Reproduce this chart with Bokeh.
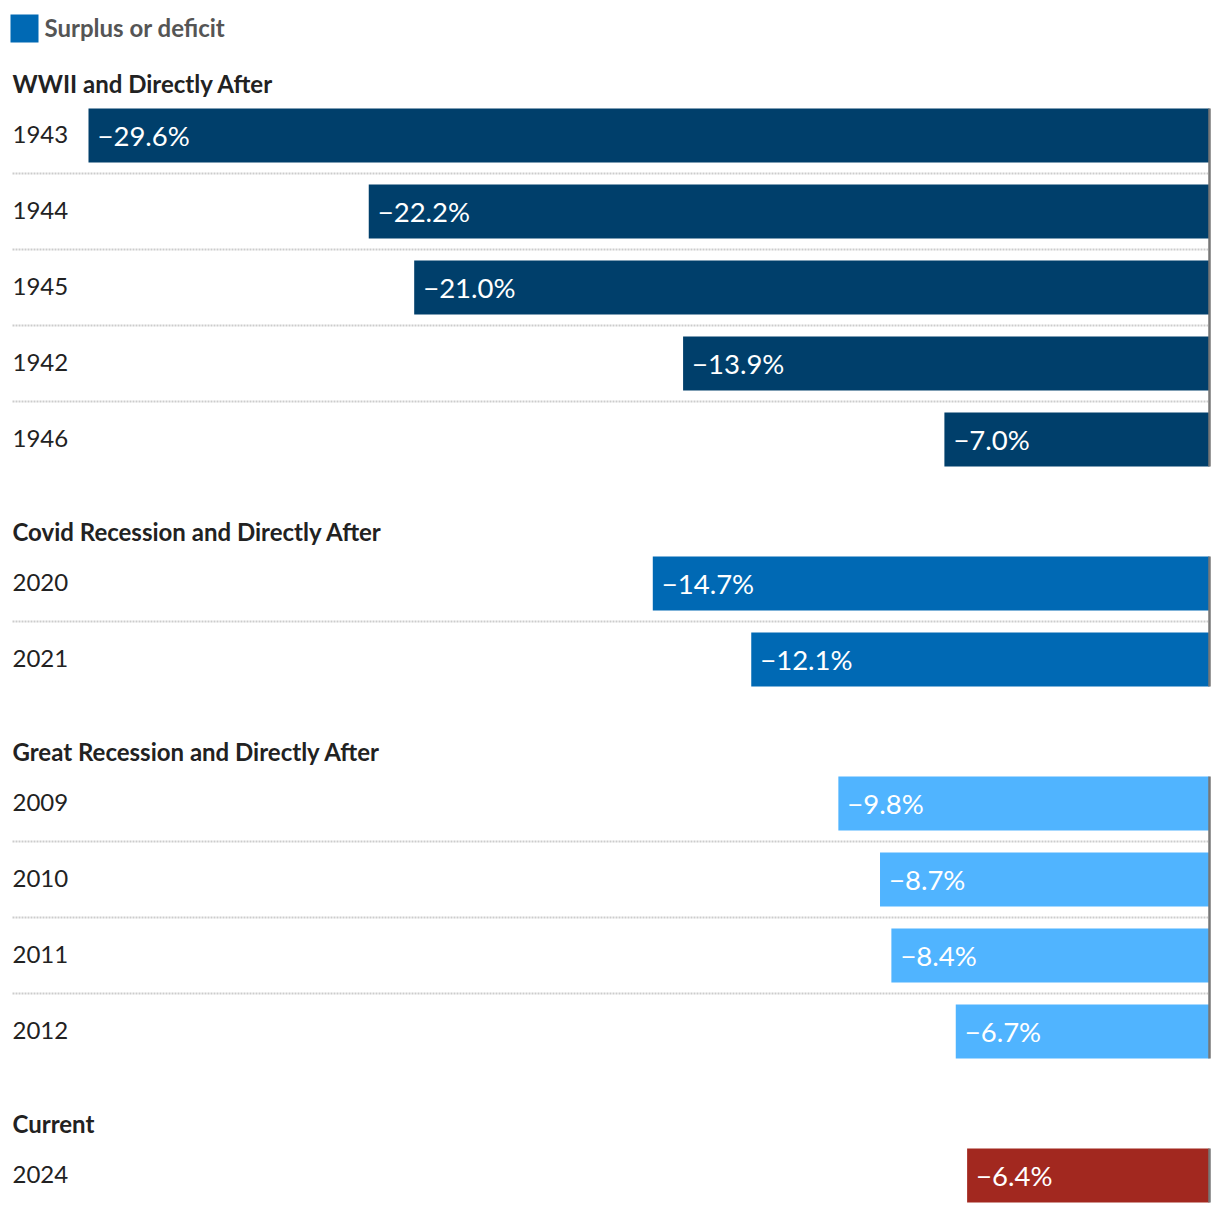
from bokeh.plotting import figure
from bokeh.models import Range1d, ColumnDataSource, LabelSet, Label, BoxAnnotation
from bokeh.embed import file_html
from bokeh.resources import INLINE
from bokeh.core.properties import value

# ---- data ----
groups = ["WWII and Directly After", "Covid Recession and Directly After",
          "Great Recession and Directly After", "Current"]
group_years = [["1943", "1944", "1945", "1942", "1946"],
               ["2020", "2021"],
               ["2009", "2010", "2011", "2012"],
               ["2024"]]
group_values = [[-29.6, -22.2, -21.0, -13.9, -7.0],
                [-14.7, -12.1],
                [-9.8, -8.7, -8.4, -6.7],
                [-6.4]]
group_colors = ["#003f6b", "#0069b4", "#50b4ff", "#a2281f"]
legend_label = "Surplus or deficit"
legend_color = "#0069b4"

FONT = "Lato"
W, H = 1220, 1212
X0 = -31.9236
X1 = 0.2905
scale = W / (X1 - X0)

p = figure(width=W, height=H, output_backend="svg", toolbar_location=None,
           x_range=Range1d(X0, X1), y_range=Range1d(H, 0),
           min_border=0, outline_line_color=None)
p.axis.visible = False
p.grid.visible = False
p.background_fill_color = "white"
p.border_fill_color = "white"

row_step = 76
group_step = 144
bar_h = 54
top = 108

bar_y, bar_v, bar_c, bar_lbl = [], [], [], []
yr_y, yr_t = [], []
hd_y, hd_t = [], []
sep_y = []
zl_y0, zl_y1 = [], []

for g, yrs, vals, col in zip(groups, group_years, group_values, group_colors):
    hd_y.append(top - 25)
    hd_t.append(g)
    first = top
    for i, (yr, v) in enumerate(zip(yrs, vals)):
        c = top + bar_h / 2
        bar_y.append(c)
        bar_v.append(v)
        bar_c.append(col)
        bar_lbl.append("\u2212" + f"{abs(v):.1f}%")
        yr_y.append(c - 1.5)
        yr_t.append(yr)
        if i < len(yrs) - 1:
            sep_y.append(top + bar_h + 11)
            top += row_step
    zl_y0.append(first)
    zl_y1.append(top + bar_h)
    top += group_step

# separators
sep_x0 = X0 + 12 / scale
p.segment(x0=[sep_x0] * len(sep_y), x1=[-0.04] * len(sep_y), y0=sep_y, y1=sep_y,
          line_color="#cccccc", line_width=2, line_dash="2 1")

src = ColumnDataSource(dict(y=bar_y, v=bar_v, c=bar_c, lbl=bar_lbl,
                            zero=[0] * len(bar_y)))
p.hbar(y="y", left="v", right="zero", height=bar_h, fill_color="c",
       line_color=None, source=src)

p.segment(x0=[0] * len(zl_y0), x1=[0] * len(zl_y0), y0=zl_y0, y1=zl_y1,
          line_color="#777777", line_width=2.5)

p.text(x="v", y="y", text="lbl", source=src, x_offset=9, y_offset=0,
       text_color="white", text_font=value(FONT), text_font_size="27.5px",
       text_baseline="middle", text_align="left")

yr_src = ColumnDataSource(dict(x=[12] * len(yr_y), y=yr_y, t=yr_t))
p.add_layout(LabelSet(x="x", y="y", text="t", x_units="screen", source=yr_src,
                      text_color="#222222", text_font=value(FONT),
                      text_font_size="24px",
                      text_baseline="middle", text_align="left"))

hd_src = ColumnDataSource(dict(x=[12] * len(hd_y), y=hd_y, t=hd_t))
p.add_layout(LabelSet(x="x", y="y", text="t", x_units="screen", source=hd_src,
                      text_color="#222222", text_font=value(FONT),
                      text_font_size="24px", text_font_style="bold",
                      text_baseline="middle", text_align="left"))

# legend
p.add_layout(BoxAnnotation(left=10, right=38, left_units="screen", right_units="screen",
                           top=14, bottom=42, fill_color=legend_color, fill_alpha=1,
                           line_color=None))
p.add_layout(Label(x=44, y=27, x_units="screen", text=legend_label,
                   text_color="#555555", text_font=FONT, text_font_size="24px",
                   text_font_style="bold", text_baseline="middle", text_align="left"))

open("out.html", "w").write(file_html(p, INLINE))
